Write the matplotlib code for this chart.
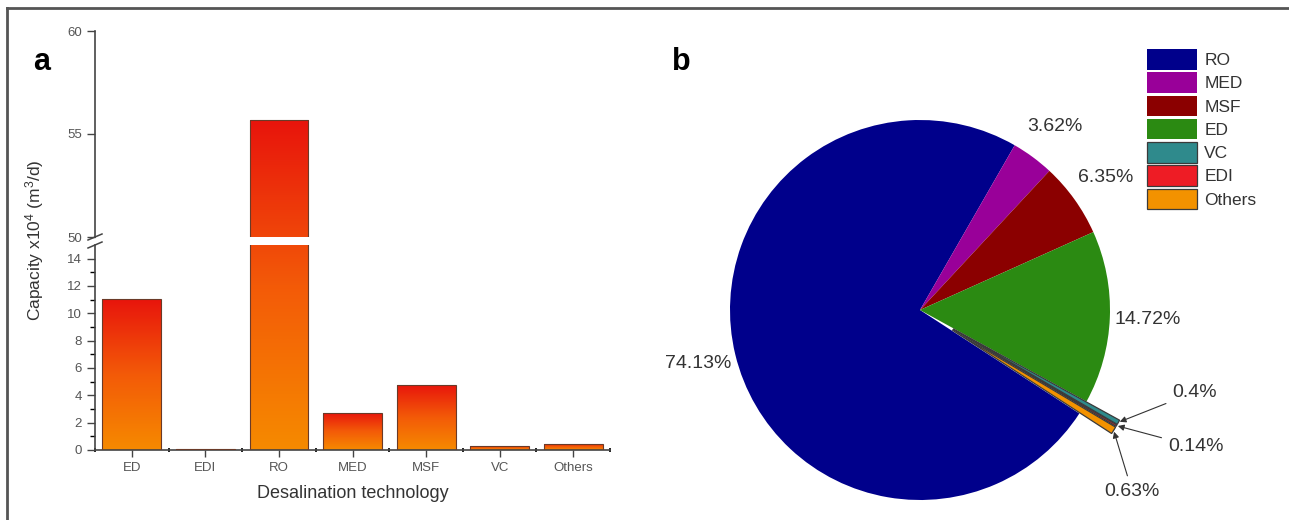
#  Desalination capacity by technology:
#  (a) installed capacity per technology (broken y axis)
#  (b) share of total capacity as a pie chart

import matplotlib.pyplot as plt
import numpy as np
from matplotlib.colors import LinearSegmentedColormap
from matplotlib.lines import Line2D

plt.rcParams["font.family"] = ["Liberation Sans", "DejaVu Sans"]
plt.rcParams["mathtext.default"] = "regular"

# Step 1: data

technologies = ["ED", "EDI", "RO", "MED", "MSF", "VC", "Others"]
capacity = [11.06, 0.105, 55.7, 2.72, 4.77, 0.30, 0.47]   # x10^4 m3/d

pie_labels = ["RO", "MED", "MSF", "ED", "VC", "EDI", "Others"]
pie_share = [74.13, 3.62, 6.35, 14.72, 0.4, 0.14, 0.63]   # %
pie_colors = ["#00008b", "#990099", "#8b0000", "#2b8a12",
              "#2f8a8c", "#ee1c25", "#f39200"]

W, H = 1289, 520


def fx(px):
    return px / W


def fy(py):
    return 1 - py / H


fig = plt.figure(figsize=(W / 100, H / 100), dpi=100)

# thin frame round the figure (left and top edges)
fig.add_artist(Line2D([fx(7), fx(7)], [0, fy(8)], color="#555555", lw=2))
fig.add_artist(Line2D([fx(7), 1], [fy(8), fy(8)], color="#555555", lw=2))

# Step 2: bar chart with broken y axis

ax_hi = fig.add_axes([fx(95), fy(237), fx(610) - fx(95), fy(31) - fy(237)])
ax_lo = fig.add_axes([fx(95), fy(450), fx(610) - fx(95), fy(245) - fy(450)])
ax_hi.set_ylim(50, 60)
ax_lo.set_ylim(0, 15)
for ax in (ax_hi, ax_lo):
    ax.set_xlim(-0.5, len(technologies) - 0.5)

bar_cmap = LinearSegmentedColormap.from_list(
    "bar", ["#f68a00", "#f35a08", "#e8140c"])
x = np.arange(len(technologies))
width = 0.8


def gradient_bars(ax, bottom_px, top_px):
    lo, hi = ax.get_ylim()
    bars = ax.bar(x, capacity, width, facecolor="none",
                  edgecolor="#6a3a28", linewidth=0.8, zorder=3)
    for xi, h, patch in zip(x, capacity, bars):
        top = min(h, hi)
        bot = max(0, lo)
        if top <= bot:
            continue
        p0 = ax.transData.transform((xi, bot))[1]
        p1 = ax.transData.transform((xi, top))[1]
        t0 = (p0 - bottom_px[xi]) / (top_px[xi] - bottom_px[xi])
        t1 = (p1 - bottom_px[xi]) / (top_px[xi] - bottom_px[xi])
        grad = np.linspace(t0, t1, 256).reshape(-1, 1)
        im = ax.imshow(grad, cmap=bar_cmap, vmin=0, vmax=1, origin="lower",
                       extent=[xi - width / 2, xi + width / 2, bot, top],
                       aspect="auto", zorder=2)
        im.set_clip_path(patch)


# pixel span of each full bar (bottom in lower axes, top in whichever holds it)
bottom_px = [ax_lo.transData.transform((xi, 0))[1] for xi in x]
top_px = []
for xi, h in zip(x, capacity):
    ax = ax_hi if h > 15 else ax_lo
    top_px.append(ax.transData.transform((xi, h))[1])

gradient_bars(ax_lo, bottom_px, top_px)
gradient_bars(ax_hi, bottom_px, top_px)

for ax in (ax_hi, ax_lo):
    ax.set_xlim(-0.5, len(technologies) - 0.5)
    ax.spines["top"].set_visible(False)
    ax.spines["right"].set_visible(False)
    ax.spines["left"].set_color("#444444")
    ax.spines["bottom"].set_color("#444444")
    ax.spines["left"].set_linewidth(1.2)
    ax.spines["bottom"].set_linewidth(1.2)
    ax.tick_params(colors="#444444", labelsize=9.5, labelcolor="#555555")
ax_hi.set_ylim(50, 60)
ax_lo.set_ylim(0, 15)

ax_hi.spines["bottom"].set_visible(False)
ax_hi.set_xticks([])
ax_hi.set_yticks([50, 55, 60])
ax_hi.tick_params(axis="y", direction="out", length=6, width=1)

ax_lo.set_yticks(np.arange(0, 15, 2))
ax_lo.set_yticks(np.arange(1, 15, 2), minor=True)
ax_lo.tick_params(axis="y", which="major", direction="out", length=6, width=1)
ax_lo.tick_params(axis="y", which="minor", direction="out", length=3.5, width=1)
ax_lo.set_xticks(x)
ax_lo.set_xticklabels(technologies)
ax_lo.set_xticks(np.arange(-0.5, len(technologies), 1.0), minor=True)
ax_lo.tick_params(axis="x", which="major", direction="out", length=5, width=1)
ax_lo.tick_params(axis="x", which="minor", direction="inout", length=3, width=1.2)

# break marks on the y axis
for yb in (237, 245):
    fig.add_artist(Line2D([fx(88), fx(102)], [fy(yb + 3), fy(yb - 3)],
                          color="#444444", lw=1.1))

ax_lo.set_xlabel("Desalination technology", fontsize=13, color="#333333",
                 labelpad=8)
fig.text(fx(35), fy(240), "Capacity x10$^4$ (m$^3$/d)", rotation=90,
         ha="center", va="center", fontsize=12.5, color="#333333")

fig.text(fx(42), fy(62), "a", fontsize=22, fontweight="bold",
         ha="center", va="center")
fig.text(fx(681), fy(62), "b", fontsize=22, fontweight="bold",
         ha="center", va="center")

# Step 3: pie chart of capacity share

cx, cy, r_px, half = 920, 310, 190, 1.35
ax_pie = fig.add_axes([fx(cx - half * r_px), fy(cy + half * r_px),
                       2 * half * r_px / W, 2 * half * r_px / H])
explode = [0, 0, 0, 0, 0.2, 0.2, 0.2]
wedges, _ = ax_pie.pie(pie_share, colors=pie_colors, explode=explode,
                       startangle=-33, counterclock=False,
                       wedgeprops=dict(linewidth=0))
for w in wedges[4:]:
    w.set_edgecolor("#3a3a3a")
    w.set_linewidth(0.9)
ax_pie.set_xlim(-half, half)
ax_pie.set_ylim(-half, half)
ax_pie.axis("off")

for w, v in zip(wedges[:4], pie_share[:4]):
    ang = np.deg2rad((w.theta1 + w.theta2) / 2)
    ax_pie.text(1.2 * np.cos(ang), 1.2 * np.sin(ang), f"{v:g}%",
                ha="center", va="center", fontsize=14, color="#333333")

small_text_pos = [(1.447, -0.432), (1.453, -0.721), (1.116, -0.953)]
for w, v, pos in zip(wedges[4:], pie_share[4:], small_text_pos):
    ang = np.deg2rad((w.theta1 + w.theta2) / 2)
    tip = (w.center[0] + w.r * np.cos(ang), w.center[1] + w.r * np.sin(ang))
    ax_pie.annotate(f"{v:g}%", xy=tip, xytext=pos, ha="center", va="center",
                    fontsize=14, color="#333333",
                    arrowprops=dict(arrowstyle="-|>", color="#333333", lw=0.8,
                                    mutation_scale=9, shrinkA=3, shrinkB=1))

fig.legend(wedges, pie_labels, loc="upper left",
           bbox_to_anchor=(fx(1147), fy(49)), frameon=False, fontsize=12.5,
           handlelength=2.9, handleheight=1.44, labelspacing=0.16,
           handletextpad=0.4, borderpad=0, borderaxespad=0,
           labelcolor="#333333")

fig.savefig("out.png", dpi=100)
